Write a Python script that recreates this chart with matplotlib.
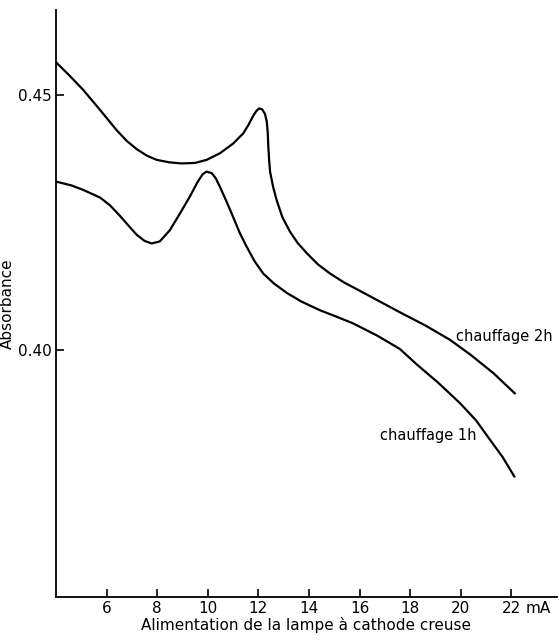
import numpy as np
import matplotlib
matplotlib.use("Agg")
import matplotlib.pyplot as plt

plt.rcParams["font.family"] = ["DejaVu Sans"]

# ---- data ----
# chauffage 2h (upper curve)
x_2h = [4.03, 4.5, 5.08, 5.74, 6.40, 6.8, 7.19, 7.6, 7.98, 8.5, 8.97, 9.5, 9.95, 10.48,
        11.0, 11.40, 11.6, 11.80, 11.92, 12.03, 12.15, 12.26, 12.33, 12.37, 12.39,
        12.42, 12.46, 12.58, 12.72, 12.95, 13.25, 13.55, 13.91, 14.35, 14.83,
        15.4, 16.01, 16.8, 17.59, 18.6, 19.57, 20.4, 21.3, 22.13]
y_2h = [0.4563, 0.4540, 0.4510, 0.4471, 0.4431, 0.4410, 0.4394, 0.4381, 0.4373,
        0.4368, 0.4366, 0.4367, 0.4373, 0.4386, 0.4405, 0.4425, 0.4441, 0.4460,
        0.4469, 0.4474, 0.4472, 0.4463, 0.4448, 0.4425, 0.4400, 0.4375, 0.4350,
        0.4320, 0.4294, 0.4260, 0.4232, 0.4210, 0.4190, 0.4168, 0.4150, 0.4132,
        0.4116, 0.4095, 0.4074, 0.4048, 0.4020, 0.3990, 0.3954, 0.3915]

# chauffage 1h (lower curve)
x_1h = [4.03, 4.6, 5.08, 5.74, 6.13, 6.53, 6.9, 7.19, 7.5, 7.78, 8.1, 8.50, 8.9,
        9.29, 9.6, 9.8, 9.95, 10.15, 10.3, 10.48, 10.75, 11.0, 11.25, 11.53, 11.85,
        12.19, 12.6, 13.12, 13.7, 14.43, 15.05, 15.75, 16.7, 17.59, 18.25, 19.1,
        19.96, 20.6, 21.15, 21.65, 22.11]
y_1h = [0.4330, 0.4323, 0.4314, 0.4299, 0.4284, 0.4263, 0.4242, 0.4226, 0.4214,
        0.4209, 0.4213, 0.4235, 0.4268, 0.4301, 0.4330, 0.4345, 0.4350, 0.4347,
        0.4338, 0.4320, 0.4290, 0.4261, 0.4231, 0.4203, 0.4174, 0.4150, 0.4131,
        0.4112, 0.4095, 0.4078, 0.4066, 0.4052, 0.4028, 0.4002, 0.3972, 0.3936,
        0.3896, 0.3862, 0.3824, 0.3790, 0.3752]

x_ticks = [6, 8, 10, 12, 14, 16, 18, 20, 22]
y_ticks = [0.40, 0.45]
y_ticklabels = ["0.40", "0.45"]

fig = plt.figure(figsize=(5.59, 6.42), dpi=100, facecolor="white")
ax = fig.add_axes([0.1002, 0.0706, 0.8962, 0.9138])

ax.plot(x_2h, y_2h, color="black", lw=1.6, solid_joinstyle="round")
ax.plot(x_1h, y_1h, color="black", lw=1.6, solid_joinstyle="round")

ax.set_xlim(4.0, 23.8)
ax.set_ylim(0.3516, 0.4667)

for s in ["top", "right"]:
    ax.spines[s].set_visible(False)
for s in ["left", "bottom"]:
    ax.spines[s].set_linewidth(1.3)

ax.set_xticks(x_ticks)
ax.set_xticklabels([str(t) for t in x_ticks], fontsize=11)
ax.set_yticks(y_ticks)
ax.set_yticklabels(y_ticklabels, fontsize=11)
ax.tick_params(direction="in", length=6, width=1.2, pad=3)

# unit sits on the tick-label baseline, right of "22"
ax.annotate("mA", xy=(22.55, 0), xycoords=("data", "axes fraction"),
            xytext=(0, -3), textcoords="offset points",
            fontsize=11, ha="left", va="top")
ax.set_xlabel("Alimentation de la lampe à cathode creuse", fontsize=11, labelpad=1)
ax.set_ylabel("Absorbance", fontsize=11, labelpad=2)

ax.text(19.8, 0.4027, "chauffage 2h", fontsize=10.5, ha="left", va="center")
ax.text(16.8, 0.3833, "chauffage 1h", fontsize=10.5, ha="left", va="center")

fig.savefig("out.png", dpi=100, facecolor="white")
